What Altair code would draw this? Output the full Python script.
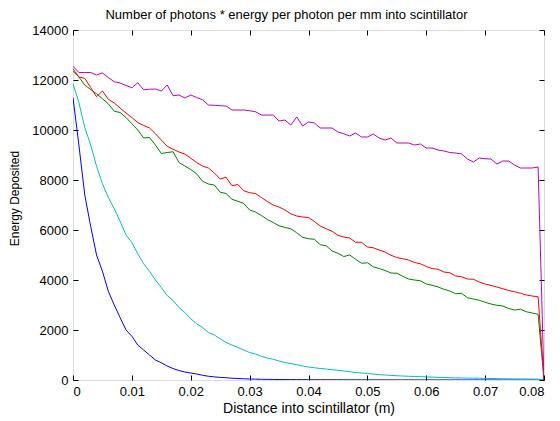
import altair as alt
import pandas as pd

distance_mm = list(range(81))

blue = [11300, 9400, 7400, 6150, 5000, 4350, 3550, 3000, 2500, 2000,
        1750, 1400, 1200, 1000, 800, 690, 560, 460, 380, 320,
        280, 240, 190, 150, 125, 105, 90, 70, 60, 50,
        40, 35, 30, 25, 22, 20, 18, 16, 15, 14,
        13, 12, 11, 10, 10, 9, 9, 8, 8, 7,
        7, 7, 6, 6, 6, 5, 5, 5, 5, 4,
        4, 4, 4, 4, 3, 3, 3, 3, 3, 3,
        3, 2, 2, 2, 2, 2, 2, 2, 2, 2, 0]

cyan = [11850, 11100, 10100, 9400, 8550, 7850, 7300, 6850, 6350, 5800,
        5500, 5050, 4650, 4350, 4000, 3700, 3380, 3180, 2900, 2700,
        2450, 2250, 2100, 1900, 1800, 1650, 1500, 1400, 1300, 1200,
        1100, 1040, 950, 880, 830, 760, 700, 660, 610, 560,
        520, 490, 460, 440, 410, 390, 360, 330, 300, 280,
        260, 240, 215, 200, 185, 170, 160, 150, 140, 135,
        125, 115, 105, 100, 90, 85, 80, 75, 72, 70,
        65, 60, 55, 50, 48, 45, 42, 40, 38, 35, 0]

red = [12450, 12120, 12070, 11700, 11330, 11560, 11230, 11080, 10880, 10680,
       10500, 10300, 10180, 10080, 9850, 9600, 9350, 9230, 9120, 9040,
       8870, 8700, 8560, 8480, 8280, 8040, 8110, 7770, 7820, 7570,
       7490, 7460, 7300, 7140, 7000, 6920, 6800, 6650, 6560, 6520,
       6500, 6340, 6160, 6050, 5950, 5790, 5720, 5680, 5510, 5510,
       5320, 5290, 5200, 5120, 4990, 4900, 4850, 4800, 4700, 4650,
       4540, 4460, 4430, 4320, 4290, 4160, 4130, 4040, 4030, 3920,
       3840, 3780, 3720, 3650, 3580, 3530, 3470, 3400, 3360, 3330, 0]

green = [12350, 12120, 11800, 11620, 11450, 11250, 11050, 10750, 10700, 10500,
         10250, 10000, 9680, 9700, 9400, 9060, 9100, 9130, 8700, 8560,
         8420, 8250, 7950, 7840, 7800, 7510, 7460, 7230, 7150, 7060,
         6800, 6720, 6580, 6420, 6300, 6170, 6100, 6050, 5890, 5710,
         5650, 5630, 5410, 5370, 5160, 5070, 4940, 5000, 4830, 4670,
         4690, 4530, 4460, 4380, 4280, 4270, 4150, 4040, 4000, 3970,
         3840, 3790, 3720, 3630, 3560, 3450, 3470, 3290, 3240, 3190,
         3110, 3040, 2990, 2960, 2860, 2800, 2830, 2730, 2680, 2630, 0]

magenta = [12550, 12300, 12300, 12300, 12200, 12280, 12100, 11930, 11880, 11780,
           11690, 11890, 11610, 11630, 11640, 11560, 11800, 11370, 11400, 11280,
           11400, 11300, 11210, 11000, 10990, 10970, 10960, 10800, 10800, 10800,
           10770, 10730, 10600, 10600, 10600, 10360, 10400, 10200, 10520, 10160,
           10320, 10280, 10080, 10080, 10080, 9920, 9850, 9760, 9880, 9720,
           9720, 9840, 9680, 9600, 9680, 9480, 9480, 9480, 9400, 9440,
           9280, 9280, 9200, 9160, 9100, 9080, 9040, 8840, 8720, 8880,
           8850, 8840, 8640, 8760, 8760, 8600, 8480, 8480, 8480, 8520, 0]

series_names = ["blue", "cyan", "green", "red", "magenta"]
series_colors = ["#0000FF", "#00BFBF", "#008000", "#FF0000", "#BF00BF"]
series_values = [blue, cyan, green, red, magenta]

x_ticks = [0, 0.01, 0.02, 0.03, 0.04, 0.05, 0.06, 0.07, 0.08]
y_ticks = [0, 2000, 4000, 6000, 8000, 10000, 12000, 14000]

title_text = "Number of photons * energy per photon per mm into scintillator"

rows = []
for order, (name, vals) in enumerate(zip(series_names, series_values)):
    for mm, v in zip(distance_mm, vals):
        rows.append({"x": mm / 1000.0, "y": v, "series": name, "ord": order})
df = pd.DataFrame(rows)

FONT = "Liberation Sans"
W, H = 471, 350
x_scale = alt.Scale(domain=[0, 0.08], nice=False, zero=False)
y_scale = alt.Scale(domain=[0, 14000], nice=False)

lines = alt.Chart(df).mark_line(strokeWidth=1, clip=True).encode(
    x=alt.X("x:Q", scale=x_scale,
            axis=alt.Axis(values=x_ticks, format=".2~f", orient="bottom",
                          title="Distance into scintillator (m)",
                          offset=-5, domain=False, grid=False, tickSize=5,
                          tickColor="black", labelColor="black",
                          labelFont=FONT, labelFontSize=13, labelPadding=5,
                          titleFont=FONT, titleFontSize=14, titleFontWeight="normal",
                          titleColor="black", titleBaseline="alphabetic",
                          titleY=37)),
    y=alt.Y("y:Q", scale=y_scale,
            axis=alt.Axis(values=y_ticks, format="d", orient="left",
                          title="Energy Deposited",
                          offset=-5, domain=False, grid=False, tickSize=5,
                          tickColor="black", labelColor="black",
                          labelFont=FONT, labelFontSize=13, labelPadding=5,
                          titleFont=FONT, titleFontSize=12, titleFontWeight="normal",
                          titleColor="black", titlePadding=10.5, titleY=168)),
    color=alt.Color("series:N", scale=alt.Scale(domain=series_names, range=series_colors),
                    legend=None),
    detail="ord:O",
)

frame_ticks = alt.Chart(df).mark_line(opacity=0).encode(
    x=alt.X("x:Q", scale=x_scale,
            axis=alt.Axis(values=x_ticks, orient="top", labels=False, title=None,
                          offset=-5, domain=False, grid=False, tickSize=5,
                          tickColor="black")),
    y=alt.Y("y:Q", scale=y_scale,
            axis=alt.Axis(values=y_ticks, orient="right", labels=False, title=None,
                          offset=-5, domain=False, grid=False, tickSize=5,
                          tickColor="black")),
    detail="ord:O",
)

title_mark = alt.Chart(pd.DataFrame({"t": [title_text]})).mark_text(
    font=FONT, fontSize=13, color="black", align="center", baseline="alphabetic"
).encode(
    text="t:N",
    x=alt.value(213.5),
    y=alt.value(-11.5),
)

chart = alt.layer(lines, frame_ticks, title_mark).resolve_axis(
    x="independent", y="independent"
).properties(
    width=W,
    height=H,
    autosize=alt.AutoSizeParams(type="none"),
    padding={"left": 65, "top": 22, "right": 8, "bottom": 40},
).configure_view(
    stroke="black", strokeWidth=1
).configure(background="white")

chart.save("out.html", embed_options={"renderer": "svg", "actions": False})
